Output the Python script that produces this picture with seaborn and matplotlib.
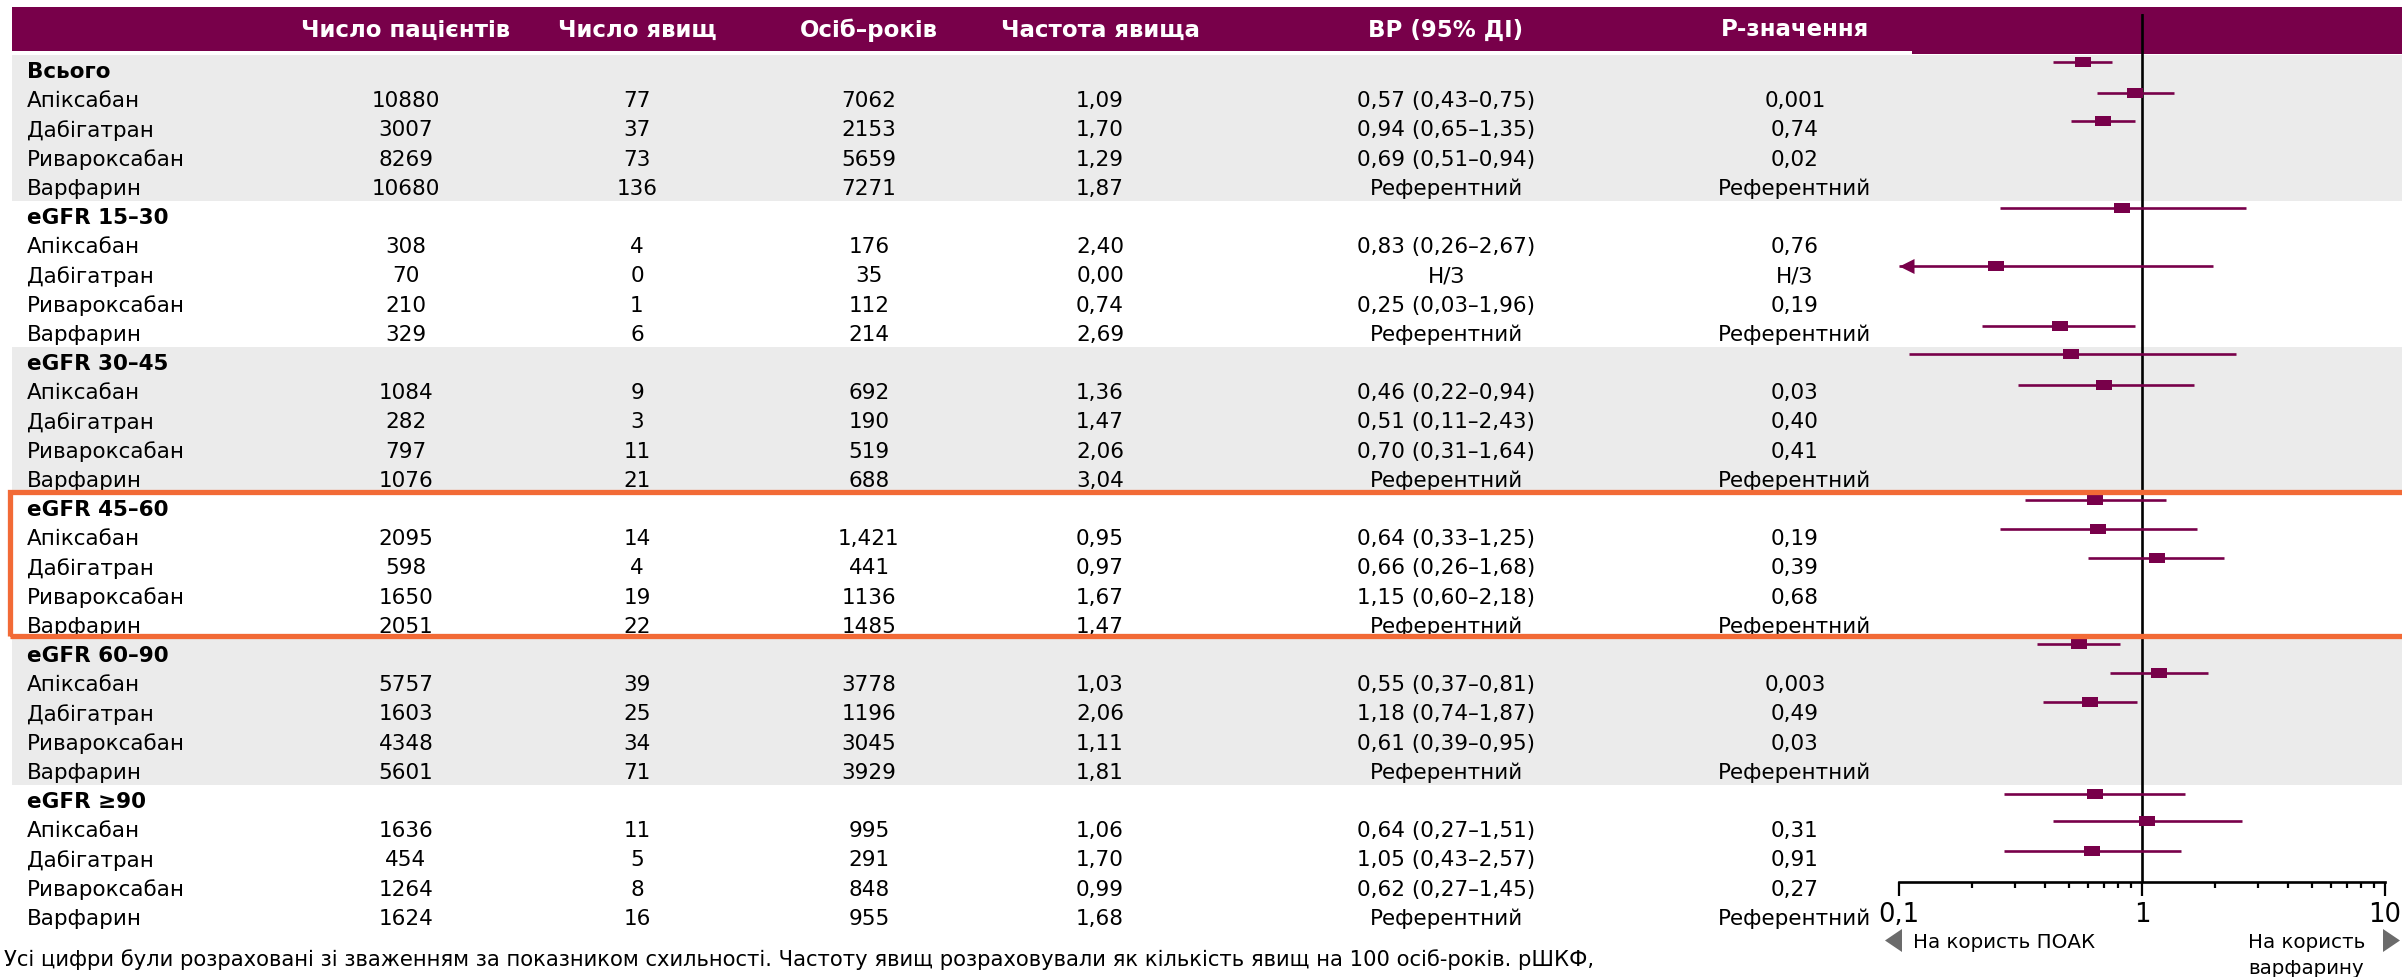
import numpy as np
import pandas as pd
import matplotlib
matplotlib.use("Agg")
import matplotlib.pyplot as plt
from matplotlib.patches import Rectangle, Polygon
from matplotlib.path import Path
from matplotlib.markers import MarkerStyle
from matplotlib.ticker import NullFormatter, FixedLocator, LogLocator
import seaborn as sns

# ---------------- data ----------------
columns = ["Число пацієнтів", "Число явищ", "Осіб–років", "Частота явища", "ВР (95% ДІ)", "Р-значення"]
groups = ["Всього", "eGFR 15–30", "eGFR 30–45", "eGFR 45–60", "eGFR 60–90", "eGFR ≥90"]
drugs = ["Апіксабан", "Дабігатран", "Ривароксабан", "Варфарин"]

patients = [10880, 3007, 8269, 10680,
            308, 70, 210, 329,
            1084, 282, 797, 1076,
            2095, 598, 1650, 2051,
            5757, 1603, 4348, 5601,
            1636, 454, 1264, 1624]
events = [77, 37, 73, 136,
          4, 0, 1, 6,
          9, 3, 11, 21,
          14, 4, 19, 22,
          39, 25, 34, 71,
          11, 5, 8, 16]
person_years = ["7062", "2153", "5659", "7271",
                "176", "35", "112", "214",
                "692", "190", "519", "688",
                "1,421", "441", "1136", "1485",
                "3778", "1196", "3045", "3929",
                "995", "291", "848", "955"]
rates = [1.09, 1.70, 1.29, 1.87,
         2.40, 0.00, 0.74, 2.69,
         1.36, 1.47, 2.06, 3.04,
         0.95, 0.97, 1.67, 1.47,
         1.03, 2.06, 1.11, 1.81,
         1.06, 1.70, 0.99, 1.68]
hr = [0.57, 0.94, 0.69, None,
      0.83, None, 0.25, None,
      0.46, 0.51, 0.70, None,
      0.64, 0.66, 1.15, None,
      0.55, 1.18, 0.61, None,
      0.64, 1.05, 0.62, None]
hr_lo = [0.43, 0.65, 0.51, None,
         0.26, None, 0.03, None,
         0.22, 0.11, 0.31, None,
         0.33, 0.26, 0.60, None,
         0.37, 0.74, 0.39, None,
         0.27, 0.43, 0.27, None]
hr_hi = [0.75, 1.35, 0.94, None,
         2.67, None, 1.96, None,
         0.94, 2.43, 1.64, None,
         1.25, 1.68, 2.18, None,
         0.81, 1.87, 0.95, None,
         1.51, 2.57, 1.45, None]
p_values = ["0,001", "0,74", "0,02", "Референтний",
            "0,76", "Н/З", "0,19", "Референтний",
            "0,03", "0,40", "0,41", "Референтний",
            "0,19", "0,39", "0,68", "Референтний",
            "0,003", "0,49", "0,03", "Референтний",
            "0,31", "0,91", "0,27", "Референтний"]
# row (in table-row units) at which each estimate is drawn in the forest panel
forest_row = [-0.31, 0.75, 1.71, 4.69, None, 6.68,
              8.73, 9.69, 10.75, 14.69, 15.68, 16.68,
              19.62, 20.62, 21.61, 24.76, 25.68, 26.71]
tick_values = [0.1, 1, 10]
tick_labels = ["0,1", "1", "10"]
footnote = ("Усі цифри були розраховані зі зваженням за показником схильності. "
            "Частоту явищ розраховували як кількість явищ на 100 осіб-років. рШКФ,")

# ---------------- style ----------------
sns.set_style("white")
plt.rcParams["font.family"] = ["DejaVu Sans"]
PURPLE = "#78004a"
GRAY = "#ebebeb"
ORANGE = "#f26a36"

W, H = 2402, 978
fig = plt.figure(figsize=(W / 100, H / 100), dpi=100)
fig.patch.set_facecolor("white")

bg = fig.add_axes([0, 0, 1, 1])
bg.set_xlim(0, W)
bg.set_ylim(H, 0)
bg.axis("off")

ROW0, STEP = 72.0, 29.2
def row_y(r):
    return ROW0 + STEP * r

# header band
bg.add_patch(Rectangle((12, 8), W - 12, 44, color=PURPLE, lw=0))
bg.add_patch(Rectangle((1912, 8), W - 1912, 47, color=PURPLE, lw=0))
# group bands
for g in range(len(groups)):
    if g % 2 == 0:
        top = row_y(5 * g) - 16
        bot = row_y(5 * g + 5) - 16
        bg.add_patch(Rectangle((12, top), W - 12, bot - top, color=GRAY, lw=0))

col_x = [406, 637, 869, 1100, 1446, 1795]
FS = 15.5
for cx, name in zip(col_x, columns):
    bg.text(cx, 30, name, ha="center", va="center", color="white",
            fontsize=16.5, fontweight="bold")

# table body
for g, gname in enumerate(groups):
    r = 5 * g
    bg.text(27, row_y(r), gname, ha="left", va="center", fontsize=FS,
            fontweight="bold", color="black")
    for d, dname in enumerate(drugs):
        i = 4 * g + d
        y = row_y(r + 1 + d)
        if hr[i] is not None:
            hr_txt = f"{hr[i]:.2f} ({hr_lo[i]:.2f}–{hr_hi[i]:.2f})".replace(".", ",")
        elif d == 3:
            hr_txt = "Референтний"
        else:
            hr_txt = "Н/З"
        vals = [str(patients[i]), str(events[i]), person_years[i],
                f"{rates[i]:.2f}".replace(".", ","), hr_txt, p_values[i]]
        bg.text(27, y, dname, ha="left", va="center", fontsize=FS, color="black")
        for cx, v in zip(col_x, vals):
            bg.text(cx, y, v, ha="center", va="center", fontsize=FS, color="black")

# ---------------- forest panel ----------------
X0, X1 = 1899, 2385
YT, YB = 15, 883
fx = fig.add_axes([X0 / W, 1 - YB / H, (X1 - X0) / W, (YB - YT) / H])
fx.patch.set_alpha(0)

est = [(h, lo, hi) for h, lo, hi in zip(hr, hr_lo, hr_hi) if h is not None]
est_rows = [r for r in forest_row if r is not None]
df = pd.DataFrame({
    "hr": [e[0] for e in est],
    "lo": [e[1] for e in est],
    "hi": [e[2] for e in est],
    "row": est_rows,
})
df["lo_clip"] = df["lo"].clip(lower=0.1)

fx.axvline(1, color="black", lw=1.9, zorder=2)
fx.hlines(df["row"], df["lo_clip"], df["hi"], color=PURPLE, lw=1.9, zorder=3)
rect = MarkerStyle(Path([(-0.5, -0.32), (0.5, -0.32), (0.5, 0.32), (-0.5, 0.32), (-0.5, -0.32)], closed=True))
sns.scatterplot(data=df, x="hr", y="row", marker=rect, s=128, color=PURPLE,
                linewidth=0, ax=fx, zorder=4, legend=False, clip_on=False)
arrow = MarkerStyle(Path([(0, 0), (1, 0.5), (1, -0.5), (0, 0)], closed=True))
cut = df[df["lo"] < 0.1]
fx.scatter(np.full(len(cut), 0.1), cut["row"], marker=arrow, s=467, color=PURPLE,
           linewidths=0, zorder=4, clip_on=False)

fx.set_xscale("log")
fx.set_xlim(0.1, 10)
fx.set_ylim((YB - ROW0) / STEP, (YT - ROW0) / STEP)
fx.xaxis.set_major_locator(FixedLocator(tick_values))
fx.set_xticklabels(tick_labels)
fx.xaxis.set_minor_locator(LogLocator(base=10, subs=np.arange(2, 10)))
fx.xaxis.set_minor_formatter(NullFormatter())
fx.set_yticks([])
fx.set_xlabel("")
fx.set_ylabel("")
for s in ["top", "right", "left"]:
    fx.spines[s].set_visible(False)
fx.spines["bottom"].set_linewidth(1.9)
fx.spines["bottom"].set_color("black")
fx.tick_params(axis="x", which="major", direction="out", length=10, width=1.6,
               color="black", labelsize=18.5, pad=4, labelcolor="black", bottom=True)
fx.tick_params(axis="x", which="minor", direction="out", length=4, width=1.6,
               color="black", bottom=True)

# annotations under the axis
bg.add_patch(Polygon([(1885, 941.5), (1902, 930), (1902, 953)], closed=True, color="#6b6b6b", lw=0))
bg.text(1913, 943, "На користь ПОАК", ha="left", va="center", fontsize=14.3, color="black")
bg.add_patch(Polygon([(2383, 930), (2383, 953), (2400, 941.5)], closed=True, color="#6b6b6b", lw=0))
bg.text(2248, 943, "На користь", ha="left", va="center", fontsize=14.3, color="black")
bg.text(2248, 969, "варфарину", ha="left", va="center", fontsize=14.3, color="black")

bg.text(4, 960, footnote, ha="left", va="center", fontsize=15.2, color="black")

# highlight frame around eGFR 45–60
fig.add_artist(Rectangle((10 / W, 1 - 636.5 / H), (W + 20) / W, (636.5 - 493) / H,
                         transform=fig.transFigure, fill=False, ec=ORANGE, lw=3.8,
                         zorder=10))

fig.savefig("out.png", dpi=100, facecolor="white")
